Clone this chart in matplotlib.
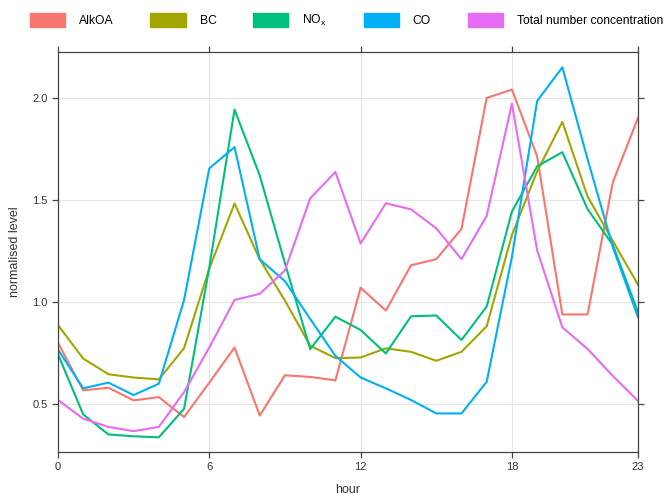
import matplotlib
matplotlib.use("Agg")
import matplotlib.pyplot as plt
from matplotlib.patches import Patch

plt.rcParams['font.family'] = ['Liberation Sans', 'DejaVu Sans']
plt.rcParams['mathtext.fontset'] = 'custom'
plt.rcParams['mathtext.rm'] = 'Liberation Sans'
plt.rcParams['mathtext.it'] = 'Liberation Sans'

# hourly normalised levels
hours = list(range(24))
alkoa = [0.80, 0.567, 0.580, 0.518, 0.534, 0.436, 0.605, 0.777, 0.444, 0.641, 0.633, 0.616,
         1.070, 0.958, 1.180, 1.210, 1.358, 2.000, 2.041, 1.714, 0.939, 0.939, 1.586, 1.903]
bc = [0.887, 0.723, 0.646, 0.630, 0.621, 0.774, 1.163, 1.483, 1.209, 1.007, 0.786, 0.725,
      0.728, 0.773, 0.756, 0.712, 0.756, 0.881, 1.328, 1.640, 1.883, 1.517, 1.300, 1.085]
nox = [0.744, 0.449, 0.351, 0.342, 0.337, 0.477, 1.170, 1.943, 1.620, 1.190, 0.769, 0.928,
       0.863, 0.748, 0.930, 0.934, 0.814, 0.978, 1.443, 1.665, 1.734, 1.455, 1.280, 0.950]
co = [0.767, 0.577, 0.605, 0.544, 0.600, 1.010, 1.655, 1.759, 1.209, 1.102, 0.917, 0.736,
      0.630, 0.577, 0.520, 0.454, 0.454, 0.609, 1.220, 1.985, 2.150, 1.700, 1.270, 0.926]
total = [0.520, 0.428, 0.388, 0.367, 0.388, 0.559, 0.777, 1.010, 1.040, 1.155, 1.508, 1.637,
         1.287, 1.484, 1.454, 1.361, 1.210, 1.422, 1.972, 1.254, 0.876, 0.770, 0.638, 0.515]

names = ['AlkOA', 'BC', r'NO$_\mathregular{x}$', 'CO', 'Total number concentration']
series = [alkoa, bc, nox, co, total]
colours = ['#F8766D', '#A3A500', '#00BF7D', '#00B0F6', '#E76BF3']

fig = plt.figure(figsize=(6.65, 4.94), dpi=100)
ax = fig.add_axes([0.0872, 0.085, 0.8722, 0.8097])

for vals, col in zip(series, colours):
    ax.plot(hours, vals, color=col, lw=1.5)

ax.set_xlim(0, 23)
ax.set_ylim(0.265, 2.225)
ax.set_xticks([0, 6, 12, 18, 23])
ax.set_yticks([0.5, 1.0, 1.5, 2.0])
ax.set_yticklabels(['0.5', '1.0', '1.5', '2.0'])
ax.grid(True, color='#e6e6e6', lw=0.8)
ax.set_axisbelow(True)

for s in ax.spines.values():
    s.set_color('#444444')
    s.set_linewidth(0.9)
ax.tick_params(axis='both', which='both', direction='out', length=4, width=0.9,
               colors='#444444', labelsize=8, labelcolor='#333333',
               top=True, right=True, labeltop=False, labelright=False)

ax.set_xlabel('hour', fontsize=9, color='#333333', labelpad=8)
ax.set_ylabel('normalised level', fontsize=9, color='#333333', labelpad=8)

handles = [Patch(facecolor=c, edgecolor=c) for c in colours]
fig.legend(handles, names, loc='center left', bbox_to_anchor=(0.045, 0.958), ncol=5,
           frameon=False, fontsize=8.7, handlelength=2.9, handleheight=1.4,
           columnspacing=3.05, handletextpad=1.16, borderpad=0, borderaxespad=0)

fig.savefig('out.png', dpi=100)
